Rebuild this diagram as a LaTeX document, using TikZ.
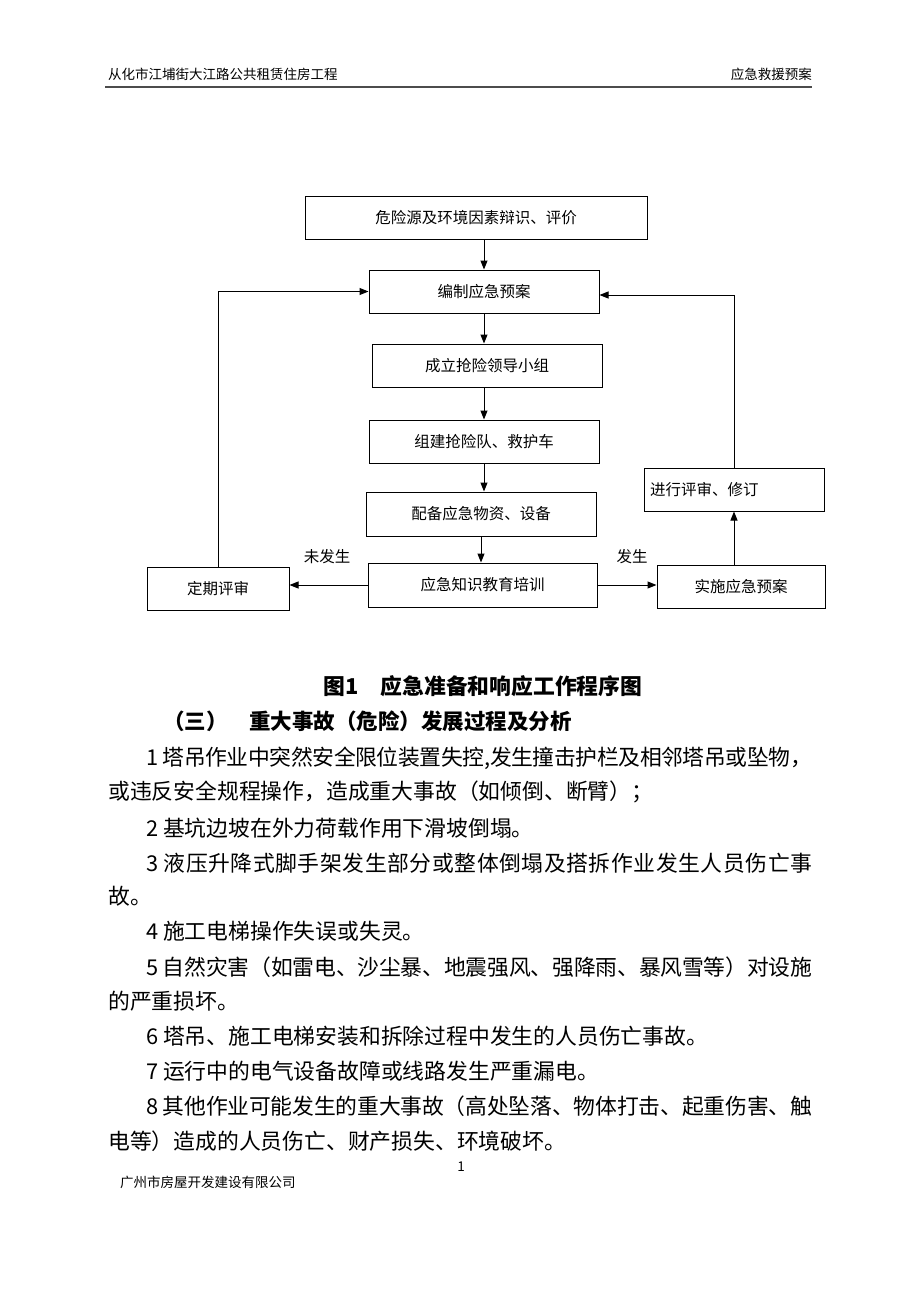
\documentclass[tikz,border=0pt]{standalone}
\usepackage{fontspec}
\setmainfont{Noto Sans CJK SC}
\usetikzlibrary{arrows.meta}
\XeTeXlinebreaklocale "zh"
\XeTeXlinebreakskip=0pt plus 3pt minus 1pt
\tikzset{
  box/.style={draw, line width=1pt, inner sep=0pt, font=\fontsize{15.5}{18}\selectfont, align=center},
  arr/.style={line width=1pt, -{Triangle[length=9pt,width=7pt]}},
  lbl/.style={inner sep=0pt, font=\fontsize{15.5}{18}\selectfont},
  body/.style={inner sep=0pt, anchor=west, font=\fontsize{21.8}{26}\selectfont},
  hdr/.style={inner sep=0pt, font=\fontsize{13.5}{16}\selectfont},
}
\newcommand{\jline}[1]{\parbox{666pt}{\parindent=0pt\parfillskip=0pt\emergencystretch=20pt #1}}
\begin{document}
\begin{tikzpicture}[x=1pt,y=-1pt]
\useasboundingbox (0,0) rectangle (920,1302);
\fill[white] (0,0) rectangle (920,1302);
% header
\node[hdr, anchor=west] (h1) at (108,74) {从化市江埔街大江路公共租赁住房工程};
\node[hdr, anchor=east] (h2) at (812,74) {应急救援预案};
\draw[line width=1.8pt, black!70] (105,87) -- (812,87);
% flowchart boxes
\node[box, minimum width=342pt, minimum height=43pt] (b1) at (476,217.5) {危险源及环境因素辩识、评价};
\node[box, minimum width=230pt, minimum height=43pt] (b2) at (484,291.5) {编制应急预案};
\node[box, minimum width=230pt, minimum height=43pt] (b3) at (487,365.5) {成立抢险领导小组};
\node[box, minimum width=230pt, minimum height=43pt] (b4) at (484,441.5) {组建抢险队、救护车};
\node[box, minimum width=230pt, minimum height=44pt] (b5) at (481,514) {配备应急物资、设备};
\node[box, minimum width=229pt, minimum height=44pt] (b6) at (482.5,585) {应急知识教育培训};
\node[box, minimum width=142pt, minimum height=43pt] (d) at (218,588.5) {定期评审};
\node[box, minimum width=168pt, minimum height=43pt] (s) at (741,586.5) {实施应急预案};
\node[box, minimum width=180pt, minimum height=43pt, text width=168pt, align=left] (r) at (734,489.5) {进行评审、修订};
% arrows
\draw[arr] (b1.south -| b2.north) -- (b2.north);
\draw[arr] (b2.south) -- (b2.south |- b3.north);
\draw[arr] (b3.south -| b4.north) -- (b4.north);
\draw[arr] (b4.south) -- (b4.south |- b5.north);
\draw[arr] (b5.south) -- (b5.south |- b6.north);
\draw[arr] (b6.west) -- (b6.west -| d.east);
\draw[arr] (b6.east) -- (b6.east -| s.west);
\draw[arr] (s.north -| r.north) -- (r.south);
\draw[arr] (d.north) |- (b2.west);
\draw[arr] (r.north) |- ([yshift=-3.5pt]b2.east);
\node[lbl] (l1) at (327,557) {未发生};
\node[lbl] (l2) at (632,557) {发生};
% caption and heading
\node[inner sep=0pt, font=\fontsize{21.8}{26}\selectfont\bfseries] (cap) at (483,686) {图1　应急准备和响应工作程序图};
\node[inner sep=0pt, anchor=west, font=\fontsize{21.5}{26}\selectfont\bfseries] (sec) at (163,721) {（三）　重大事故（危险）发展过程及分析};
% body lines
\node[body] (t1) at (146,758) {\jline{1 塔吊作业中突然安全限位装置失控,发生撞击护栏及相邻塔吊或坠物，}};
\node[body] (t2) at (108,792) {或违反安全规程操作，造成重大事故（如倾倒、断臂）；};
\node[body] (t3) at (146,828) {2 基坑边坡在外力荷载作用下滑坡倒塌。};
\node[body] (t4) at (146,863) {\jline{3 液压升降式脚手架发生部分或整体倒塌及搭拆作业发生人员伤亡事}};
\node[body] (t5) at (108,896) {故。};
\node[body] (t6) at (146,931) {4 施工电梯操作失误或失灵。};
\node[body] (t7) at (146,967) {\jline{5 自然灾害（如雷电、沙尘暴、地震强风、强降雨、暴风雪等）对设施}};
\node[body] (t8) at (108,1001) {的严重损坏。};
\node[body] (t9) at (146,1036) {6 塔吊、施工电梯安装和拆除过程中发生的人员伤亡事故。};
\node[body] (t10) at (146,1071) {7 运行中的电气设备故障或线路发生严重漏电。};
\node[body] (t11) at (146,1106) {\jline{8 其他作业可能发生的重大事故（高处坠落、物体打击、起重伤害、触}};
\node[body] (t12) at (108,1141) {电等）造成的人员伤亡、财产损失、环境破坏。};
% footer
\node[hdr] (pg) at (461,1167) {1};
\node[hdr, anchor=west] (f1) at (120,1182) {广州市房屋开发建设有限公司};
\end{tikzpicture}
\end{document}
